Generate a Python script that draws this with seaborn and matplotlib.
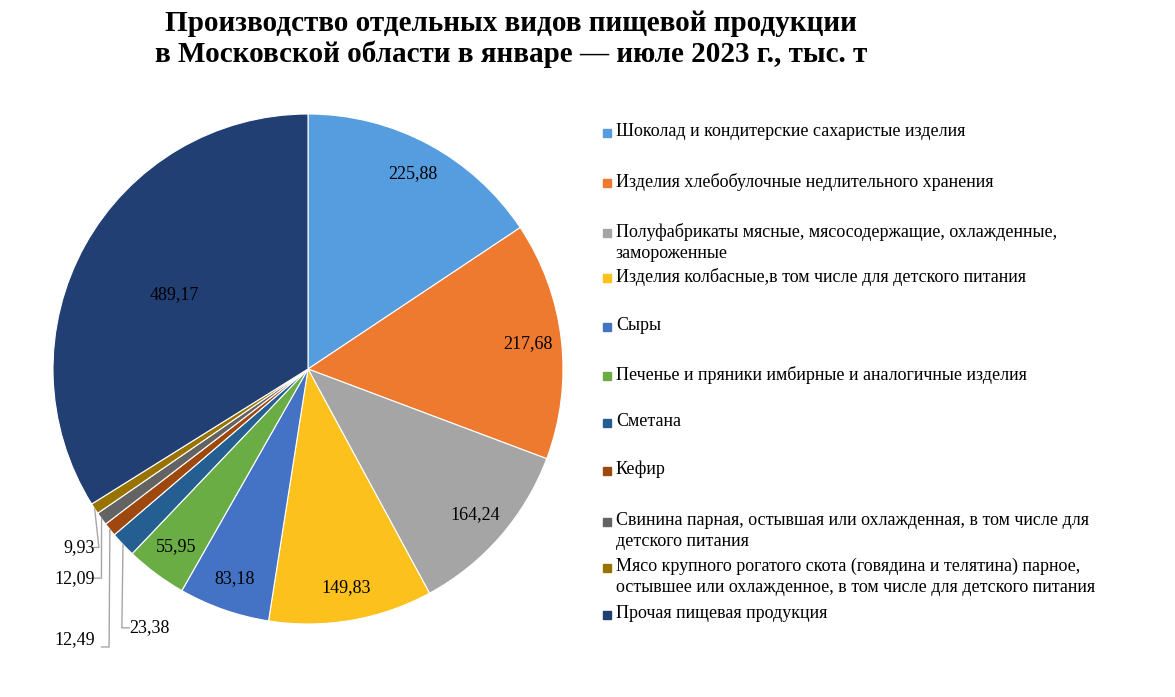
import matplotlib
matplotlib.use("Agg")
import matplotlib.pyplot as plt
import seaborn as sns
import numpy as np

sns.set_theme(style="white")
plt.rcParams["font.family"] = "Liberation Serif"
plt.rcParams["text.color"] = "black"

categories = [
    "Шоколад и кондитерские сахаристые изделия",
    "Изделия хлебобулочные недлительного хранения",
    "Полуфабрикаты мясные, мясосодержащие, охлажденные,\nзамороженные",
    "Изделия колбасные,в том числе для детского питания",
    "Сыры",
    "Печенье и пряники имбирные и аналогичные изделия",
    "Сметана",
    "Кефир",
    "Свинина парная, остывшая или охлажденная, в том числе для\nдетского питания",
    "Мясо крупного рогатого скота (говядина и телятина) парное,\nостывшее или охлажденное, в том числе для детского питания",
    "Прочая пищевая продукция",
]
values = [225.88, 217.68, 164.24, 149.83, 83.18, 55.95, 23.38, 12.49, 12.09, 9.93, 489.17]
labels = ["225,88", "217,68", "164,24", "149,83", "83,18", "55,95", "23,38", "12,49", "12,09", "9,93", "489,17"]
colors = ["#559ddf", "#ee7a30", "#a5a5a5", "#fcc11c", "#4472c4", "#6aad45",
          "#255e91", "#9e480e", "#636363", "#997300", "#213f73"]

fig = plt.figure(figsize=(11.75, 6.97), dpi=100)
R = 255
ax = fig.add_axes([(308 - R) / 1175, (697 - 369 - R) / 697, 2 * R / 1175, 2 * R / 697])
wedges, _ = ax.pie(values, colors=colors, startangle=90, counterclock=False,
                   wedgeprops=dict(linewidth=0.8, edgecolor="white"))
ax.set_xlim(-1, 1)
ax.set_ylim(-1, 1)
ax.set_aspect("equal")

# small-slice labels: (line end x, line end y, text x, text y, ha)
small = {
    6: (-0.73, -1.015, -0.70, -1.015, "left"),
    7: (-0.78, -1.09, -0.835, -1.06, "right"),
    8: (-0.81, -0.82, -0.835, -0.82, "right"),
    9: (-0.82, -0.70, -0.835, -0.70, "right"),
}
for i, w in enumerate(wedges):
    ang = np.deg2rad((w.theta1 + w.theta2) / 2)
    if i in small:
        ex, ey = np.cos(ang), np.sin(ang)
        lx, ly, tx, ty, ha = small[i]
        hx = lx + 0.03 if ha == "left" else lx - 0.03
        ax.plot([ex, lx, hx], [ey, ly, ly], color="#a6a6a6", lw=1, clip_on=False)
        ax.text(tx, ty, labels[i], ha=ha, va="center", fontsize=13, clip_on=False)
    else:
        r = 0.6 if i == 10 else 0.87
        ax.text(np.cos(ang) * r, np.sin(ang) * r, labels[i], ha="center", va="center", fontsize=13)

fig.suptitle("Производство отдельных видов пищевой продукции\nв Московской области в январе — июле 2023 г., тыс. т",
             x=0.435, y=0.985, fontsize=21, fontweight="bold", linespacing=1.15)

ys = [133, 183, 233, 278, 327, 376, 423, 471, 522, 568, 615]
for c, lab, y in zip(colors, categories, ys):
    fy = 1 - y / 697
    fig.patches.append(plt.Rectangle((603 / 1175, fy - 4 / 697), 8 / 1175, 8 / 697,
                                     transform=fig.transFigure, color=c, figure=fig))
    fig.text(616 / 1175, fy + 10 / 697, lab, fontsize=13, va="top", linespacing=1.3)

fig.savefig("out.png", dpi=100)
